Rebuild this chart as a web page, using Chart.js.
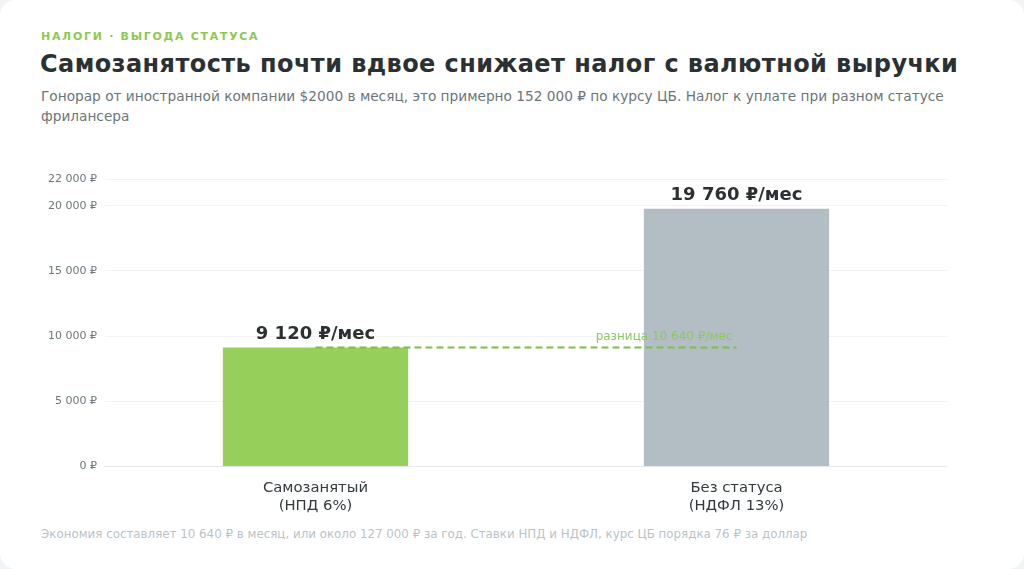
<!DOCTYPE html>
<html lang="ru">
<head>
<meta charset="utf-8">
<script src="https://cdn.jsdelivr.net/npm/chart.js@4.4.1/dist/chart.umd.min.js"></script>
<style>
  html, body { margin:0; padding:0; background:#f2f3f4; }
  body { width:1024px; height:569px; overflow:hidden; font-family:"DejaVu Sans", sans-serif; }
  .card { position:absolute; left:0; top:0; width:1024px; height:569px; background:#fff; border-radius:16px; }
  .eyebrow { position:absolute; left:41px; top:30px; font-size:11px; font-weight:bold; letter-spacing:1.7px; color:#8cc94f; }
  .title { position:absolute; left:40px; top:50px; font-size:24px; font-weight:bold; color:#2b3133; letter-spacing:0.42px; white-space:nowrap; }
  .sub { position:absolute; left:41px; top:87px; width:930px; font-size:13.7px; line-height:19.5px; color:#6b7579; }
  .chartbox { position:absolute; left:40px; top:165px; width:907px; height:355px; }
  .foot { position:absolute; left:41px; top:527px; font-size:11.85px; color:#b9c3c7; white-space:nowrap; }
</style>
</head>
<body>
<div class="card">
  <div class="eyebrow">НАЛОГИ · ВЫГОДА СТАТУСА</div>
  <div class="title">Самозанятость почти вдвое снижает налог с валютной выручки</div>
  <div class="sub">Гонорар от иностранной компании $2000 в месяц, это примерно 152 000 ₽ по курсу ЦБ. Налог к уплате при разном статусе фрилансера</div>
  <div class="chartbox"><canvas id="c"></canvas></div>
  <div class="foot">Экономия составляет 10 640 ₽ в месяц, или около 127 000 ₽ за год. Ставки НПД и НДФЛ, курс ЦБ порядка 76 ₽ за доллар</div>
</div>
<script>
const categories = [["Самозанятый", "(НПД 6%)"], ["Без статуса", "(НДФЛ 13%)"]];
const taxValues = [9120, 19760];
const barColors = ["#97cf5b", "#b3bdc4"];
const yTicks = [0, 5000, 10000, 15000, 20000, 22000];
const yMax = 22000;

function fmt(n) { return String(n).replace(/\B(?=(\d{3})+(?!\d))/g, " "); }

const valueLabels = {
  id: "valueLabels",
  afterDatasetsDraw(chart) {
    const ctx = chart.ctx;
    const meta = chart.getDatasetMeta(0);
    const x = chart.scales.x, y = chart.scales.y;
    const yv = y.getPixelForValue(taxValues[0]);
    const x1 = x.getPixelForValue(0), x2 = x.getPixelForValue(1);
    ctx.save();
    ctx.strokeStyle = "#7dbf45";
    ctx.lineWidth = 2;
    ctx.setLineDash([7, 4]);
    ctx.beginPath();
    ctx.moveTo(x1, yv);
    ctx.lineTo(x2, yv);
    ctx.stroke();
    ctx.setLineDash([]);
    ctx.font = "12px 'DejaVu Sans'";
    ctx.fillStyle = "#8cc862";
    ctx.textAlign = "right";
    ctx.textBaseline = "alphabetic";
    ctx.fillText("разница " + fmt(taxValues[1] - taxValues[0]) + " ₽/мес", x2 - 4, yv - 8);
    ctx.font = "bold 18px 'DejaVu Sans'";
    ctx.fillStyle = "#2b3133";
    ctx.textAlign = "center";
    meta.data.forEach((bar, i) => {
      ctx.fillText(fmt(taxValues[i]) + " ₽/мес", bar.x, bar.y - 9);
    });
    ctx.restore();
  }
};

new Chart(document.getElementById("c"), {
  type: "bar",
  data: {
    labels: categories,
    datasets: [{
      data: taxValues,
      backgroundColor: barColors,
      borderWidth: 0,
      barPercentage: 0.55,
      categoryPercentage: 0.8
    }]
  },
  options: {
    responsive: true,
    maintainAspectRatio: false,
    animation: false,
    layout: { padding: { top: 8, right: 0, bottom: 0, left: 0 } },
    plugins: { legend: { display: false }, tooltip: { enabled: false } },
    scales: {
      x: {
        grid: { display: false },
        border: { display: true, color: "#e4e9eb", width: 1 },
        ticks: { color: "#333a3d", font: { family: "DejaVu Sans", size: 14.8, lineHeight: 1.2 }, padding: 5 }
      },
      y: {
        min: 0, max: yMax,
        afterBuildTicks(scale) { scale.ticks = yTicks.map(v => ({ value: v })); },
        grid: { color: "#f0f2f3", drawTicks: false },
        border: { display: false },
        ticks: {
          color: "#6c777b",
          font: { family: "DejaVu Sans", size: 11 },
          padding: 8,
          callback: v => fmt(v) + " ₽"
        }
      }
    }
  },
  plugins: [valueLabels]
});
</script>
</body>
</html>
